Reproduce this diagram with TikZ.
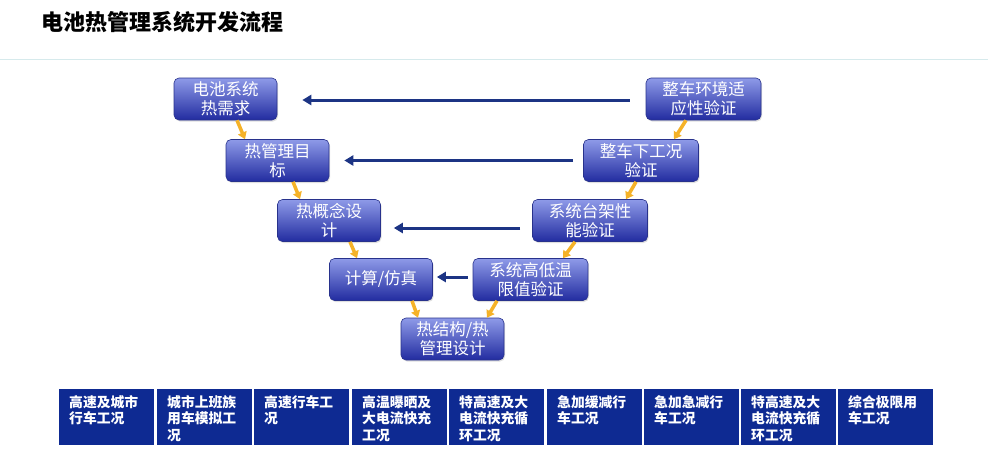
\documentclass[tikz,border=0pt]{standalone}
\usepackage{fontspec}
\setmainfont{Noto Sans CJK SC}
\usetikzlibrary{arrows.meta,shadows}

\definecolor{vtop}{RGB}{142,154,232}
\definecolor{vbot}{RGB}{34,44,160}
\definecolor{vborder}{RGB}{40,50,140}
\definecolor{navy}{RGB}{28,52,132}
\definecolor{gold}{RGB}{245,178,40}
\definecolor{cblue}{RGB}{14,42,146}
\definecolor{sepgray}{RGB}{214,234,236}

\tikzset{
  vbox/.style={draw=vborder, line width=0.6pt, rounded corners=5pt,
    top color=vtop, bottom color=vbot, text=white, align=center,
    minimum height=42pt, inner sep=1pt, font=\fontsize{16.5}{19}\selectfont,
    drop shadow={opacity=0.25, shadow xshift=1pt, shadow yshift=-1.5pt}},
  lbox/.style={vbox, minimum width=103pt},
  rbox/.style={vbox, minimum width=115pt},
  varrow/.style={navy, line width=3pt, -{Triangle[length=9pt,width=10pt]}},
  garrow/.style={gold, line width=3.5pt, -{Triangle[length=7pt,width=9pt]}},
  cbox/.style={fill=cblue, minimum width=95pt, minimum height=56pt,
    inner sep=0pt, anchor=north west},
  ctext/.style={text=white, align=left, anchor=north west, inner sep=0pt,
    font=\fontsize{13.8}{16.5}\selectfont\bfseries},
}

\begin{document}
\begin{tikzpicture}[x=1pt, y=-1pt]
      \useasboundingbox (0,0) rectangle (988,466);

      % Title
      \node[anchor=west, font=\fontsize{22}{26}\selectfont\bfseries] (title) at (38,22) {电池热管理系统开发流程};
      \draw[sepgray, line width=1pt] (0,59) -- (988,59);

      % Left side of the V
      \node[lbox] (req) at (225.5,99) {电池系统\\热需求};
      \node[lbox] (goal) at (277.5,160.5) {热管理目\\标};
      \node[lbox] (concept) at (329,220.5) {热概念设\\计};
      \node[lbox] (sim) at (381,279.5) {计算/仿真};
      \node[lbox] (design) at (452.5,339) {热结构/热\\管理设计};

      % Right side of the V
      \node[rbox] (limit) at (530.5,279.5) {系统高低温\\限值验证};
      \node[rbox] (bench) at (590,220.5) {系统台架性\\能验证};
      \node[rbox] (vehicle) at (641,160.5) {整车下工况\\验证};
      \node[rbox] (env) at (703.5,99) {整车环境适\\应性验证};

      % Down and up the V
      \draw[garrow] ([xshift=11.5pt]req.south) -- ([xshift=-32.5pt]goal.north);
      \draw[garrow] ([xshift=15.5pt]goal.south) -- ([xshift=-29pt]concept.north);
      \draw[garrow] ([xshift=21pt]concept.south) -- ([xshift=-24pt]sim.north);
      \draw[garrow] ([xshift=31pt]sim.south) -- ([xshift=-34.5pt]design.north);
      \draw[garrow] ([xshift=-33.5pt]limit.south) -- ([xshift=34.5pt]design.north);
      \draw[garrow] ([xshift=-15pt]bench.south) -- ([xshift=32.5pt]limit.north);
      \draw[garrow] ([xshift=-5pt]vehicle.south) -- ([xshift=36pt]bench.north);
      \draw[garrow] ([xshift=-17.5pt]env.south) -- ([xshift=33pt]vehicle.north);

      % Verification back to requirements
      \draw[varrow, shorten <=16pt, shorten >=25pt] ([yshift=-1pt]env.west) -- ([yshift=-1pt]req.east);
      \draw[varrow, shorten <=10pt, shorten >=15pt] (vehicle.west) -- (goal.east);
      \draw[varrow, shorten <=12pt, shorten >=13pt] ([yshift=-7.5pt]bench.west) -- ([yshift=-7.5pt]concept.east);
      \draw[varrow, shorten <=5pt, shorten >=4pt] ([yshift=2.5pt]limit.west) -- ([yshift=2.5pt]sim.east);

      % Driving cycles
      \node[cbox] (c1) at (59,389) {};
      \node[cbox] (c2) at (157,389) {};
      \node[cbox] (c3) at (254,389) {};
      \node[cbox] (c4) at (352,389) {};
      \node[cbox] (c5) at (449,389) {};
      \node[cbox] (c6) at (547,389) {};
      \node[cbox] (c7) at (644,389) {};
      \node[cbox] (c8) at (741,389) {};
      \node[cbox] (c9) at (838,389) {};
      \node[ctext] at ([xshift=10pt, yshift=-6pt]c1.north west) {高速及城市\\行车工况};
      \node[ctext] at ([xshift=10pt, yshift=-6pt]c2.north west) {城市上班族\\用车模拟工\\况};
      \node[ctext] at ([xshift=10pt, yshift=-6pt]c3.north west) {高速行车工\\况};
      \node[ctext] at ([xshift=10pt, yshift=-6pt]c4.north west) {高温曝晒及\\大电流快充\\工况};
      \node[ctext] at ([xshift=10pt, yshift=-6pt]c5.north west) {特高速及大\\电流快充循\\环工况};
      \node[ctext] at ([xshift=10pt, yshift=-6pt]c6.north west) {急加缓减行\\车工况};
      \node[ctext] at ([xshift=10pt, yshift=-6pt]c7.north west) {急加急减行\\车工况};
      \node[ctext] at ([xshift=10pt, yshift=-6pt]c8.north west) {特高速及大\\电流快充循\\环工况};
      \node[ctext] at ([xshift=10pt, yshift=-6pt]c9.north west) {综合极限用\\车工况};
    \end{tikzpicture}
\end{document}
